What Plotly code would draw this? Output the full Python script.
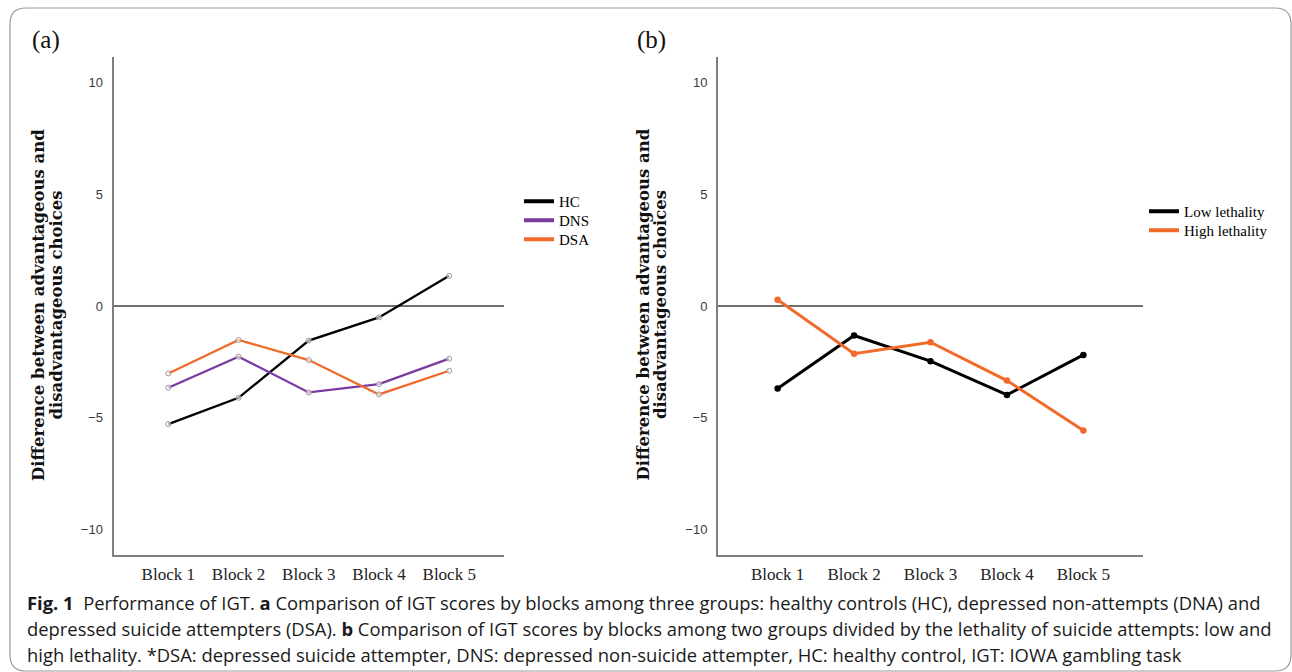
import plotly.graph_objects as go

blocks = ["Block 1", "Block 2", "Block 3", "Block 4", "Block 5"]

# Panel (a)
hc = [-5.29, -4.11, -1.55, -0.51, 1.35]
dns = [-3.66, -2.27, -3.87, -3.50, -2.36]
dsa = [-3.02, -1.52, -2.42, -3.96, -2.90]

# Panel (b)
low_leth = [-3.69, -1.32, -2.47, -3.98, -2.19]
high_leth = [0.28, -2.14, -1.62, -3.34, -5.58]

y_ticks = [-10, -5, 0, 5, 10]

W, H = 1292, 672
BLACK = "#000000"
PURPLE = "#7A3A9E"
ORANGE = "#F26A2A"


def px(x):
    return x / W


def py(y):
    return 1 - y / H


fig = go.Figure()

legend_font = dict(family="Liberation Serif", size=15, color="#000")

# ---- panel (a) ----
series_a = [("HC", hc, BLACK), ("DNS", dns, PURPLE), ("DSA", dsa, ORANGE)]
for i, (name, vals, col) in enumerate(series_a):
    lg = "legend" if i == 0 else f"legend{i + 1}"
    fig.add_trace(go.Scatter(x=blocks, y=vals, mode="lines", name=name, showlegend=False,
                             line=dict(color=col, width=2.3), xaxis="x", yaxis="y"))
    fig.add_trace(go.Scatter(x=blocks, y=vals, mode="markers", showlegend=False,
                             marker=dict(size=5, color="rgba(255,255,255,0.6)",
                                         line=dict(color="#9a9a9a", width=1)),
                             xaxis="x", yaxis="y", hoverinfo="skip"))
    # legend entry (no data drawn)
    fig.add_trace(go.Scatter(x=[None], y=[None], mode="lines", name=name, legend=lg,
                             line=dict(color=col, width=4), xaxis="x", yaxis="y"))

# ---- panel (b) ----
series_b = [("Low lethality", low_leth, BLACK), ("High lethality", high_leth, ORANGE)]
for i, (name, vals, col) in enumerate(series_b):
    lg = f"legend{i + 4}"
    fig.add_trace(go.Scatter(x=blocks, y=vals, mode="lines", name=name, showlegend=False,
                             line=dict(color=col, width=3), xaxis="x2", yaxis="y2"))
    fig.add_trace(go.Scatter(x=blocks, y=vals, mode="markers", showlegend=False,
                             marker=dict(size=6.5, color=col),
                             xaxis="x2", yaxis="y2", hoverinfo="skip"))
    fig.add_trace(go.Scatter(x=[None], y=[None], mode="lines", name=name, legend=lg,
                             line=dict(color=col, width=4), xaxis="x2", yaxis="y2"))

yrange = [-11.15, 11.15]
xrange = [-0.78, 4.78]
ydom = [py(555), py(57)]

xaxis_common = dict(
    type="category", range=xrange, showgrid=False, zeroline=False,
    showline=True, linecolor="#7f7f7f", linewidth=2, ticks="",
    tickfont=dict(family="Liberation Serif", size=17, color="#222222"),
    ticklabelstandoff=3, fixedrange=True,
)
yaxis_common = dict(
    range=yrange, tickvals=y_ticks, showgrid=False,
    zeroline=True, zerolinecolor="#6f6f6f", zerolinewidth=2,
    showline=True, linecolor="#7f7f7f", linewidth=2, ticks="",
    tickfont=dict(family="Liberation Sans", size=13, color="#3a3a3a"),
    ticklabelstandoff=6, fixedrange=True,
)


def legend_at(xp, yc):
    return dict(x=px(xp), y=py(yc - 16), xanchor="left", yanchor="top",
                font=legend_font, bgcolor="rgba(0,0,0,0)", itemwidth=30,
                borderwidth=0)


fig.update_layout(
    width=W, height=H,
    margin=dict(l=0, r=0, t=0, b=0),
    paper_bgcolor="white", plot_bgcolor="white",
    xaxis=dict(domain=[px(113.5), px(504)], anchor="y", **xaxis_common),
    yaxis=dict(domain=ydom, anchor="x", **yaxis_common),
    xaxis2=dict(domain=[px(718), px(1143)], anchor="y2", **xaxis_common),
    yaxis2=dict(domain=ydom, anchor="x2", **yaxis_common),
    legend=legend_at(519, 201),
    legend2=legend_at(519, 220),
    legend3=legend_at(519, 239),
    legend4=legend_at(1144, 211),
    legend5=legend_at(1144, 230),
    showlegend=True,
)

title_l1 = "<b>Difference between advantageous and</b>"
title_l2 = "<b>disadvantageous choices</b>"
title_font = dict(family="DejaVu Serif", size=16.5, color="#111")

annotations = [
    dict(text="(a)", x=px(30), y=py(40), xref="paper", yref="paper",
         xanchor="left", yanchor="middle", showarrow=False,
         font=dict(family="Liberation Serif", size=25, color="#111")),
    dict(text="(b)", x=px(635), y=py(40), xref="paper", yref="paper",
         xanchor="left", yanchor="middle", showarrow=False,
         font=dict(family="Liberation Serif", size=25, color="#111")),
]
for xl1, xl2 in [(38, 55.5), (642.5, 660)]:
    annotations.append(dict(text=title_l1, x=px(xl1), y=py(305), xref="paper", yref="paper",
                            xanchor="center", yanchor="middle", showarrow=False,
                            textangle=-90, font=title_font))
    annotations.append(dict(text=title_l2, x=px(xl2), y=py(305), xref="paper", yref="paper",
                            xanchor="center", yanchor="middle", showarrow=False,
                            textangle=-90, font=title_font))

caption_lines = [
    "<b>Fig. 1</b>  Performance of IGT. <b>a</b> Comparison of IGT scores by blocks among three groups: healthy controls (HC), depressed non-attempts (DNA) and",
    "depressed suicide attempters (DSA). <b>b</b> Comparison of IGT scores by blocks among two groups divided by the lethality of suicide attempts: low and",
    "high lethality. *DSA: depressed suicide attempter, DNS: depressed non-suicide attempter, HC: healthy control, IGT: IOWA gambling task",
]
for i, line in enumerate(caption_lines):
    annotations.append(dict(text=line, x=px(25), y=py(602 + 26 * i), xref="paper", yref="paper",
                            xanchor="left", yanchor="middle", showarrow=False,
                            font=dict(family="Open Sans", size=18.4, color="#1a1a1a")))
fig.update_layout(annotations=annotations)

# rounded border frame
x0, x1, y0, y1 = px(10), px(1291), py(8), py(671)
rx, ry = 16 / W, 16 / H
path = (f"M {x0+rx},{y0} L {x1-rx},{y0} Q {x1},{y0} {x1},{y0-ry} "
        f"L {x1},{y1+ry} Q {x1},{y1} {x1-rx},{y1} L {x0+rx},{y1} "
        f"Q {x0},{y1} {x0},{y1+ry} L {x0},{y0-ry} Q {x0},{y0} {x0+rx},{y0} Z")
fig.add_shape(type="path", path=path, xref="paper", yref="paper",
              line=dict(color="#9a9a9a", width=1.2), layer="below")

fig.write_html("out.html", config={"displayModeBar": False},
               post_script="document.body.style.margin='0';document.body.style.overflow='hidden';")
